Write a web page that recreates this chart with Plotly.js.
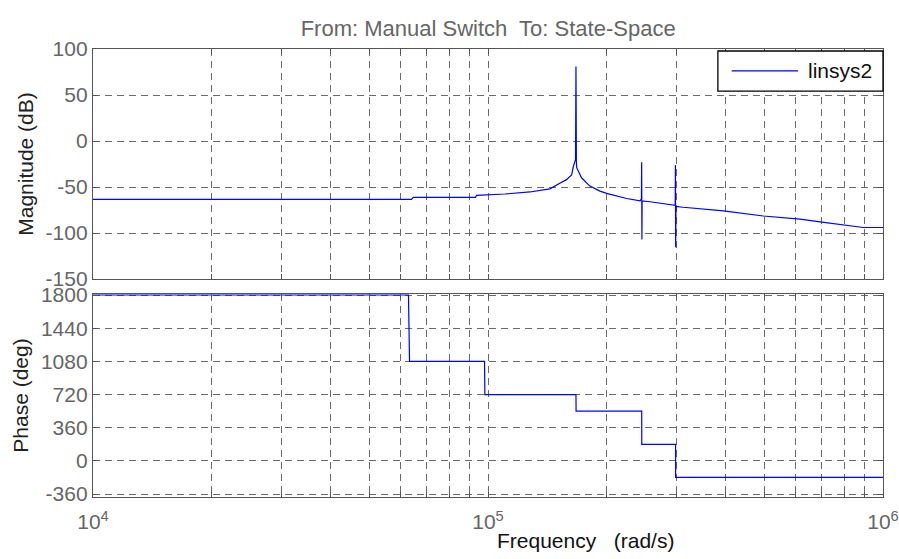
<!DOCTYPE html>
<html>
<head>
<meta charset="utf-8">
<script src="https://cdn.plot.ly/plotly-3.0.1.min.js"></script>
<style>html,body{margin:0;padding:0;background:#fff;}#chart{width:899px;height:559px;}</style>
</head>
<body>
<div id="chart"></div>
<script>
// Magnitude response (rad/s, dB)
var magFreq = [10000, 30000, 64000, 64700, 93000, 93500, 110400, 127700, 143500, 152000, 158000, 162800, 164400, 166600, 167000, 167400, 167700, 172500, 181100, 192100, 199700, 224300, 242600, 244600, 244900, 245300, 245600, 257100, 277700, 297800, 298200, 298600, 299200, 312000, 394500, 497800, 616400, 693000, 891000, 1000000];
var magDb   = [-63.4, -63.4, -63.4, -61.2, -61.2, -59, -57.6, -55.4, -52, -46, -42, -37, -28, -20, 81, -22, -29, -40, -49, -54.5, -57, -62.5, -65, -63, -23, -107, -65, -66, -68.5, -70, -26, -115.5, -71, -72, -76, -81.5, -85, -88, -94, -94];
// Phase response (rad/s, deg)
var phFreq = [10000, 62900, 63300, 98000, 98200, 167000, 167100, 245000, 245100, 298500, 298600, 1000000];
var phDeg  = [1800, 1800, 1080, 1080, 720, 720, 540, 540, 180, 180, -180, -180];
var seriesName = 'linsys2';

var gridVals = [];
var gridText = [];
[1e4, 1e5].forEach(function(d){
  for (var k = 1; k <= 9; k++) { gridVals.push(d*k); gridText.push(''); }
});
gridVals.push(1e6); gridText.push('');
var decadeLabels = {10000: '10<sup>4</sup>', 100000: '10<sup>5</sup>', 1000000: '10<sup>6</sup>'};
var xTickText = gridVals.map(function(v){ return decadeLabels[v] || ''; });

var magTicks = [-150, -100, -50, 0, 50, 100];
var phTicks = [-360, 0, 360, 720, 1080, 1440, 1800];

var FONT = 'Liberation Sans, Arial, sans-serif';
var lineCol = '#0000ff';

var traces = [
  {x: magFreq, y: magDb, xaxis: 'x', yaxis: 'y', type: 'scatter', mode: 'lines',
   name: seriesName, showlegend: false, line: {color: lineCol, width: 1.2}},
  {x: phFreq, y: phDeg, xaxis: 'x2', yaxis: 'y2', type: 'scatter', mode: 'lines',
   name: seriesName, showlegend: false, line: {color: lineCol, width: 1.2}}
];

var axCommon = {
  showline: true, linecolor: '#555', linewidth: 1.2, mirror: 'allticks',
  ticks: 'inside', ticklen: 5, tickcolor: '#555',
  showgrid: true, gridcolor: '#6a6a6a', gridwidth: 1, griddash: '7px,5px',
  zeroline: false, tickfont: {family: FONT, size: 21, color: '#666'}
};

function mk(o){ return Object.assign({}, axCommon, o); }

var layout = {
  width: 899, height: 559,
  margin: {l: 93, r: 16, t: 49, b: 62},
  paper_bgcolor: '#fff', plot_bgcolor: '#fff',
  font: {family: FONT, size: 21, color: '#222'},
  title: {text: 'From: Manual Switch  To: State-Space', x: 0.543, xanchor: 'center', y: 0.95, yanchor: 'middle',
          font: {family: FONT, size: 22, color: '#666'}},
  showlegend: false,
  xaxis: mk({type: 'log', range: [4, 6], domain: [0, 1], anchor: 'y', tickvals: gridVals, ticktext: gridText, showticklabels: false}),
  yaxis: mk({range: [-150, 100], domain: [0.4866, 1], anchor: 'x', tickvals: magTicks, ticktext: magTicks.map(String),
            title: {text: 'Magnitude (dB)', font: {family: FONT, size: 21, color: '#222'}, standoff: 6}}),
  xaxis2: mk({type: 'log', range: [4, 6], domain: [0, 1], anchor: 'y2', tickvals: gridVals, ticktext: xTickText, ticklabelstandoff: 6}),
  yaxis2: mk({range: [-392, 1811], domain: [0, 0.4531], anchor: 'x2', tickvals: phTicks, ticktext: phTicks.map(String),
            title: {text: 'Phase (deg)', font: {family: FONT, size: 21, color: '#222'}, standoff: 6}}),
  shapes: [
    {type: 'rect', xref: 'paper', yref: 'paper', x0: 0.791, x1: 1.0, y0: 0.906, y1: 0.9955,
     fillcolor: '#fff', line: {color: '#000', width: 1.3}, layer: 'above'},
    {type: 'line', xref: 'paper', yref: 'paper', x0: 0.8085, x1: 0.8924, y0: 0.951, y1: 0.951,
     line: {color: lineCol, width: 1.2}, layer: 'above'}
  ],
  annotations: [
    {text: seriesName, xref: 'paper', yref: 'paper', x: 0.9025, y: 0.951, xanchor: 'left', yanchor: 'middle',
     showarrow: false, font: {family: FONT, size: 21, color: '#111'}},
    {text: 'Frequency   (rad/s)', xref: 'paper', yref: 'paper', x: 0.624, y: -0.096, xanchor: 'center', yanchor: 'middle',
     showarrow: false, font: {family: FONT, size: 21, color: '#111'}}
  ]
};

Plotly.newPlot('chart', traces, layout, {displayModeBar: false, staticPlot: true});
</script>
</body>
</html>
